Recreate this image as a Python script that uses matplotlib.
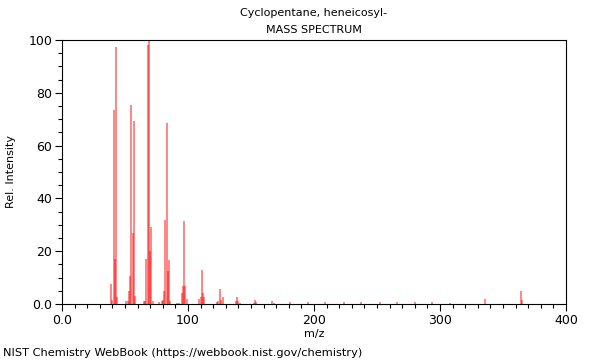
"""
Espectro de masas (NIST) de ciclopentano, heneicosil-
Barras verticales m/z vs intensidad relativa.
"""

import matplotlib
matplotlib.use("Agg")
import matplotlib.pyplot as plt
from matplotlib.ticker import MultipleLocator, FixedFormatter, FixedLocator

#? datos (m/z, intensidad relativa)
mz = [39, 40, 41, 42, 43, 44,
      51, 52, 53, 54, 55, 56, 57, 58,
      65, 66, 67, 68, 69, 70, 71, 72,
      77, 79, 80, 81, 82, 83, 84, 85, 86,
      91, 93, 95, 96, 97, 98, 99,
      109, 110, 111, 112, 113,
      123, 124, 125, 126, 128,
      138, 139, 140, 141,
      152, 153, 154, 167, 168, 181, 195, 209, 224, 237, 252,
      266, 280, 294, 308, 336, 364, 365]
intensity = [7.5, 1.5, 73.5, 17, 97.5, 2.5,
             1.0, 1.0, 5.0, 10.5, 75.5, 27, 69.5, 3.2,
             1.0, 1.2, 17, 98, 100, 20, 29, 1.2,
             0.8, 1.2, 1.5, 5.0, 31.8, 68.5, 12.6, 16.5, 1.0,
             0.5, 0.5, 4.0, 7.0, 31.5, 7.0, 2.0,
             1.8, 2.5, 13, 4.3, 2.5,
             0.8, 1.2, 5.8, 1.5, 2.8,
             1.2, 2.7, 1.2, 0.5,
             0.5, 1.5, 0.6, 1.2, 0.4, 0.8, 0.7, 0.9, 0.9, 0.7, 0.7,
             0.7, 0.6, 0.8, 0.5, 1.8, 4.9, 1.5]

x_ticks = [0, 100, 200, 300, 400]
x_labels = ["0.0", "100", "200", "300", "400"]
y_ticks = [0, 20, 40, 60, 80, 100]
y_labels = ["0.0", "20", "40", "60", "80", "100"]

fig = plt.figure(figsize=(6, 3.6), dpi=100)
ax = fig.add_axes([62 / 600, 1 - 304 / 360, 504 / 600, 264 / 360])

ax.vlines(mz, 0, intensity, colors="red", linewidth=1.1, alpha=0.6)

ax.set_xlim(0, 400)
ax.set_ylim(0, 100)
ax.xaxis.set_major_locator(FixedLocator(x_ticks))
ax.xaxis.set_major_formatter(FixedFormatter(x_labels))
ax.yaxis.set_major_locator(FixedLocator(y_ticks))
ax.yaxis.set_major_formatter(FixedFormatter(y_labels))
ax.xaxis.set_minor_locator(MultipleLocator(10))
ax.yaxis.set_minor_locator(MultipleLocator(5))
ax.tick_params(which="major", length=5, width=0.8, labelsize=9, pad=2)
ax.tick_params(which="minor", length=3, width=0.8)

ax.set_xlabel("m/z", fontsize=8, labelpad=2)
ax.set_ylabel("Rel. Intensity", fontsize=8, labelpad=9)

fig.text(314 / 600, 1 - 13 / 360, "Cyclopentane, heneicosyl-", ha="center", va="center", fontsize=8)
fig.text(314 / 600, 1 - 30 / 360, "MASS SPECTRUM", ha="center", va="center", fontsize=8)
fig.text(3 / 600, 1 - 353 / 360, "NIST Chemistry WebBook (https://webbook.nist.gov/chemistry)",
         ha="left", va="center", fontsize=8.2)

fig.savefig("out.png", dpi=100)
